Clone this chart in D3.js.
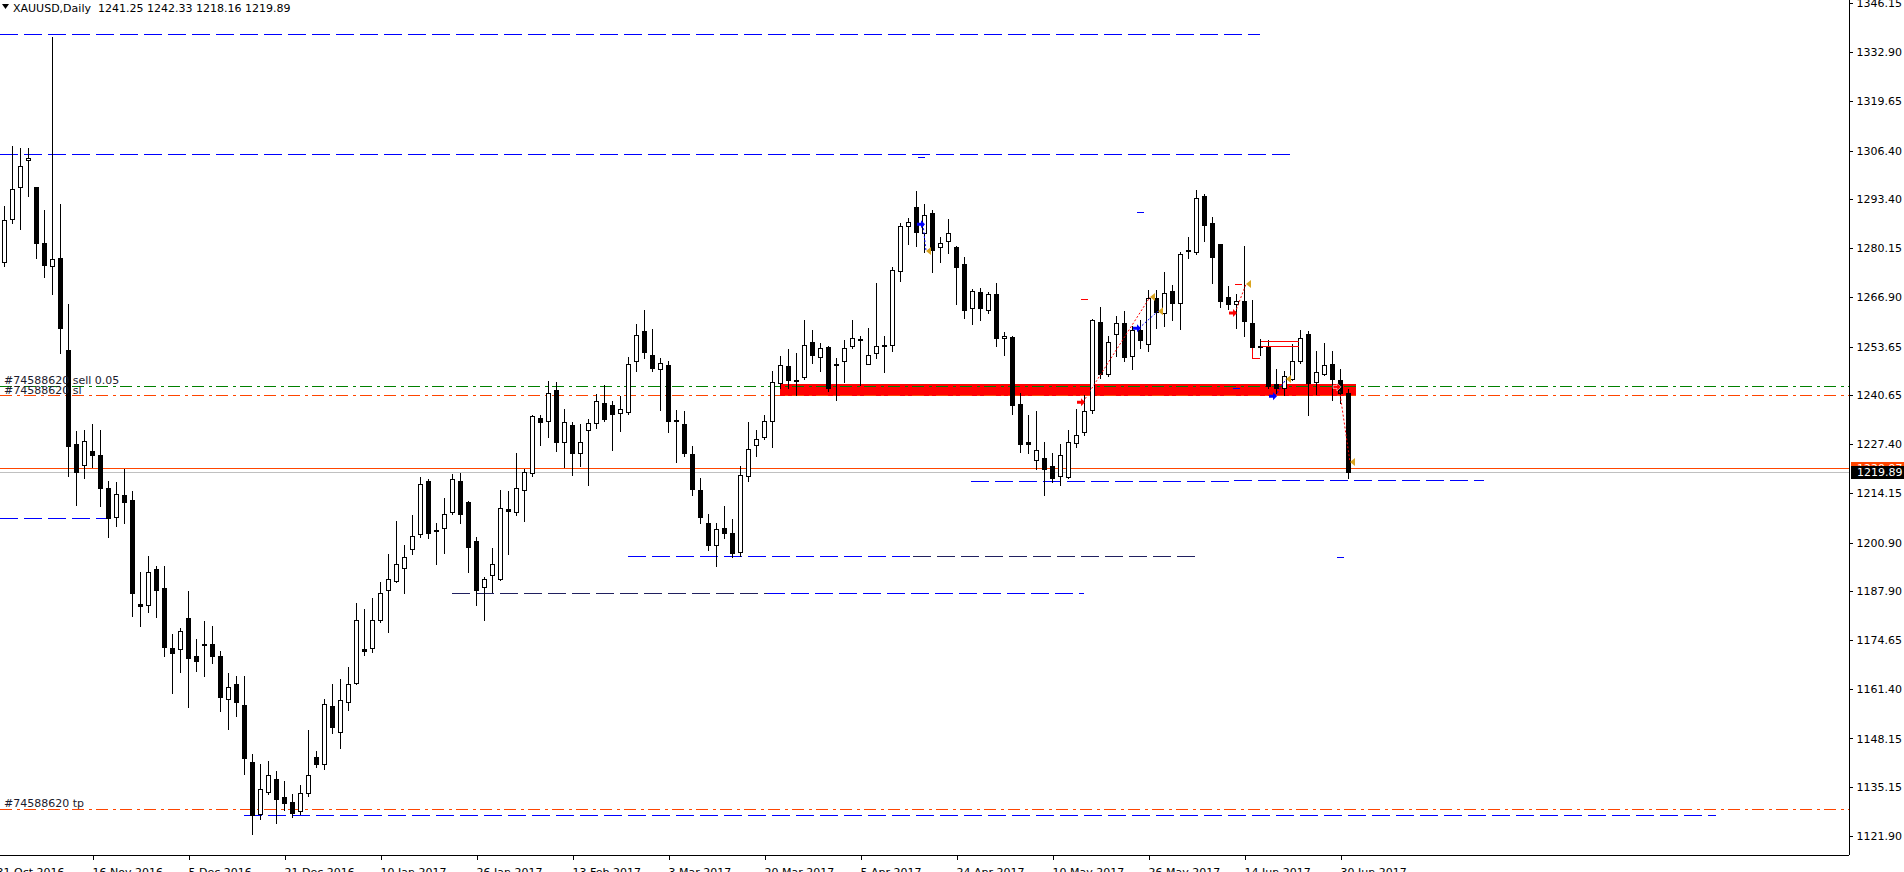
<!DOCTYPE html>
<html>
<head>
<meta charset="utf-8">
<script src="https://cdn.jsdelivr.net/npm/d3@7"></script>
<style>
  body { margin: 0; background: #fff; overflow: hidden; }
  svg { display: block; }
  text { font-family: "DejaVu Sans", sans-serif; font-size: 11px; }
</style>
</head>
<body>
<div id="chart"></div>
<script>
// XAUUSD daily, 1 Nov 2016 .. 3 Jul 2017 (bar 0 .. bar 168)
const opens = [
  1276.3,1287.9,1296.6,1303.8,1296.6,1281.5,1275.3,1277.6,1252.8,1227.5,
  1221.9,1225.5,1224.5,1215.6,1207.8,1213.6,1212.4,1184.3,1184.0,1193.8,
  1188.7,1172.6,1172.2,1180.7,1170.4,1173.6,1173.6,1170.4,1158.8,1162.8,
  1157.2,1141.9,1127.7,1133.8,1137.3,1132.5,1131.1,1128.5,1133.5,1143.2,
  1141.2,1156.9,1149.8,1158.0,1163.1,1172.2,1172.5,1180.1,1188.0,1190.5,
  1194.1,1199.1,1203.2,1217.6,1204.2,1204.9,1209.2,1217.6,1211.8,1201.3,
  1189.0,1192.1,1191.2,1209.9,1209.2,1215.0,1219.6,1234.5,1233.7,1242.1,
  1228.0,1232.6,1225.1,1231.3,1233.2,1238.6,1237.8,1235.9,1236.0,1249.9,
  1257.8,1251.3,1247.7,1248.6,1234.0,1232.9,1224.8,1215.1,1206.1,1200.3,
  1204.9,1203.6,1198.4,1218.7,1227.2,1229.4,1233.7,1243.8,1248.3,1244.7,
  1245.4,1254.8,1250.8,1253.6,1249.0,1249.9,1253.8,1255.7,1249.0,1251.9,
  1253.9,1254.2,1274.0,1286.1,1291.1,1284.2,1289.7,1280.5,1282.2,1280.5,
  1276.0,1264.0,1268.3,1263.4,1267.9,1255.9,1256.2,1238.2,1228.1,1223.1,
  1223.6,1221.6,1218.7,1218.6,1227.7,1230.6,1236.7,1260.4,1246.4,1257.0,
  1260.0,1251.0,1258.0,1254.4,1266.6,1262.6,1268.6,1265.5,1279.6,1279.0,
  1294.2,1286.8,1281.3,1267.0,1265.0,1265.9,1260.1,1253.8,1253.9,1243.5,
  1242.4,1245.0,1249.7,1257.0,1244.0,1246.4,1248.9,1244.6,1241.25
];
const highs = [
  1291.4,1307.7,1307.0,1307.0,1296.6,1290.4,1337.0,1292.1,1265.2,1231.0,
  1231.3,1232.7,1231.3,1217.6,1217.3,1220.8,1214.7,1193.1,1197.4,1194.5,
  1194.5,1176.2,1177.9,1187.9,1175.0,1179.8,1178.4,1171.7,1165.7,1165.0,
  1165.0,1144.0,1141.2,1142.0,1139.3,1136.8,1133.2,1135.7,1150.4,1144.8,
  1158.8,1162.8,1164.2,1167.4,1184.7,1183.0,1185.9,1190.2,1197.8,1206.8,
  1200.3,1208.2,1218.6,1217.9,1206.1,1213.0,1219.3,1219.7,1212.1,1202.4,
  1191.6,1199.3,1215.1,1214.7,1225.1,1220.8,1235.2,1235.2,1244.3,1244.1,
  1236.8,1233.4,1232.7,1234.2,1240.9,1243.3,1238.9,1240.4,1250.8,1259.7,
  1263.4,1258.3,1250.5,1249.7,1236.6,1236.3,1226.9,1218.3,1208.6,1206.1,
  1210.7,1207.2,1221.6,1233.4,1231.3,1235.2,1247.1,1251.0,1253.1,1251.9,
  1260.8,1258.0,1254.6,1253.9,1250.5,1255.4,1260.8,1256.5,1258.7,1270.7,
  1256.5,1275.0,1286.8,1288.2,1295.5,1292.1,1290.4,1283.2,1287.9,1280.7,
  1277.9,1269.2,1269.5,1268.3,1270.7,1257.7,1256.5,1241.1,1235.2,1236.3,
  1228.1,1225.1,1227.4,1231.3,1236.8,1240.6,1261.1,1264.4,1256.5,1262.0,
  1263.3,1259.1,1260.8,1268.8,1268.8,1273.8,1270.2,1279.2,1283.2,1295.7,
  1294.7,1288.5,1281.4,1269.9,1267.8,1280.7,1266.2,1255.8,1255.3,1247.6,
  1247.1,1254.4,1258.2,1257.9,1252.6,1254.6,1252.6,1247.7,1242.33
];
const lows = [
  1275.3,1286.8,1285.4,1294.3,1277.4,1272.4,1267.8,1251.9,1218.7,1211.1,
  1218.3,1221.2,1210.7,1202.3,1205.3,1206.1,1181.2,1178.4,1182.3,1180.8,
  1170.3,1160.3,1166.1,1156.6,1166.4,1165.0,1168.6,1155.6,1150.8,1154.1,
  1138.7,1122.4,1126.5,1133.2,1125.3,1128.9,1127.0,1127.9,1132.8,1140.4,
  1140.0,1149.5,1145.5,1155.9,1162.8,1170.7,1171.4,1179.4,1176.8,1190.2,
  1187.3,1197.7,1202.3,1202.2,1195.2,1198.1,1208.6,1206.1,1193.1,1184.0,
  1180.1,1187.6,1190.9,1197.8,1208.2,1206.8,1218.7,1227.2,1229.4,1225.5,
  1221.2,1219.0,1221.5,1216.4,1231.7,1233.7,1225.8,1230.9,1235.6,1247.1,
  1250.5,1247.1,1236.6,1230.6,1222.5,1224.1,1213.6,1206.1,1198.8,1194.5,
  1202.0,1197.1,1197.4,1217.6,1224.1,1228.8,1226.5,1242.4,1242.4,1240.7,
  1245.0,1249.3,1247.1,1241.7,1239.2,1244.1,1253.3,1243.3,1248.9,1250.5,
  1246.7,1252.6,1271.4,1281.3,1280.7,1279.2,1273.7,1276.3,1278.9,1265.2,
  1261.3,1259.7,1260.8,1262.6,1253.9,1251.5,1235.6,1225.2,1225.1,1220.8,
  1213.7,1217.3,1216.5,1218.3,1226.5,1229.8,1235.9,1245.2,1245.7,1251.2,
  1249.7,1247.6,1253.3,1252.6,1258.7,1259.1,1260.8,1258.4,1277.4,1278.6,
  1282.2,1270.9,1264.2,1263.7,1258.7,1256.5,1251.0,1251.5,1242.4,1241.1,
  1240.6,1244.7,1249.3,1235.3,1240.9,1246.1,1239.2,1238.5,1218.16
];
const closes = [
  1287.8,1296.0,1302.4,1304.4,1281.5,1275.6,1277.1,1258.7,1227.0,1219.8,
  1228.3,1224.5,1215.7,1207.5,1214.0,1211.8,1187.3,1183.7,1193.1,1188.0,
  1172.9,1171.2,1177.2,1169.7,1169.1,1173.4,1170.3,1159.2,1162.1,1158.0,
  1142.9,1127.6,1134.5,1138.3,1131.8,1130.8,1128.2,1133.5,1138.3,1141.2,
  1157.5,1151.3,1158.5,1162.8,1180.1,1171.7,1180.1,1187.3,1191.2,1195.2,
  1197.1,1202.7,1216.6,1203.6,1204.0,1208.6,1217.9,1208.5,1199.6,1188.0,
  1191.1,1195.2,1210.2,1209.5,1215.6,1219.8,1234.9,1233.4,1241.1,1228.1,
  1233.4,1225.1,1228.1,1233.0,1238.9,1234.2,1235.6,1236.8,1248.9,1256.7,
  1252.2,1247.9,1249.2,1233.7,1233.7,1225.1,1215.3,1207.8,1200.3,1204.6,
  1203.6,1198.1,1219.0,1226.0,1228.7,1233.7,1244.2,1248.6,1244.7,1244.4,
  1254.1,1251.3,1253.2,1242.4,1248.7,1253.2,1255.9,1255.4,1251.5,1253.9,
  1254.2,1274.3,1286.1,1287.2,1284.4,1289.0,1279.6,1281.6,1284.2,1275.0,
  1263.4,1268.5,1264.1,1267.8,1256.1,1256.5,1237.8,1227.4,1227.4,1225.8,
  1220.8,1218.3,1224.5,1228.0,1229.8,1236.2,1260.7,1246.4,1254.8,1260.0,
  1250.8,1258.0,1255.4,1266.6,1263.0,1268.2,1265.3,1278.6,1279.3,1293.6,
  1286.5,1277.7,1266.0,1265.2,1265.9,1260.5,1253.6,1253.5,1243.1,1242.4,
  1245.7,1249.9,1255.9,1243.8,1246.7,1248.6,1245.0,1241.1,1219.89
];

const priceTicks = [1346.15,1332.90,1319.65,1306.40,1293.40,1280.15,1266.90,1253.65,
  1240.65,1227.40,1214.15,1200.90,1187.90,1174.65,1161.40,1148.15,1135.15,1121.90];
const dateBars = [-1, 11, 23, 35, 47, 59, 71, 83, 95, 107, 119, 131, 143, 155, 167];
const dateLabels = ["31 Oct 2016","16 Nov 2016","5 Dec 2016","21 Dec 2016","10 Jan 2017",
  "26 Jan 2017","13 Feb 2017","3 Mar 2017","20 Mar 2017","5 Apr 2017","24 Apr 2017",
  "10 May 2017","26 May 2017","14 Jun 2017","30 Jun 2017"];

// horizontal lines drawn on the chart: price, first bar, last bar, style
const hLines = [
  {price: 1337.8,  from: -0.5,  to: 157,   kind: "blue"},
  {price: 1305.4,  from: -0.5,  to: 161.2, kind: "blue"},
  {price: 1207.5,  from: -0.5,  to: 12.8,  kind: "blue"},
  {price: 1197.3,  from: 78,    to: 113.6, kind: "blue"},
  {price: 1197.3,  from: 113.6, to: 149.2, kind: "dark"},
  {price: 1187.2,  from: 56,    to: 95.4,  kind: "dark"},
  {price: 1187.2,  from: 95.4,  to: 135,   kind: "blue"},
  {price: 1217.6,  from: 120.9, to: 153.5, kind: "blue"},
  {price: 1217.75, from: 153.7, to: 185,   kind: "blue"},
  {price: 1127.45, from: 30,    to: 214,   kind: "blue"}
];
const orderId = "#74588620";
const entryPrice = 1243.04, slPrice = 1240.62, tpPrice = 1129.17;
const bidPrice = 1219.89, askPrice = 1220.97;
const zoneTop = 1243.6, zoneBottom = 1240.35, zoneFrom = 97, zoneTo = 169;

// closed trades: [type, open bar, open price, close bar, close price]
const trades = [
  ["buy", 115, 1286.6, 115, 1279.4],
  ["sell", 135, 1238.7, 143, 1267.0],
  ["buy", 142, 1258.6, 144, 1263.2],
  ["sell", 154, 1262.7, 155, 1270.5],
  ["buy", 159, 1240.3, 160, 1244.9],
  ["sell", 167, 1242.8, 168, 1222.6]
];
// short level marks [bar, price, colour kind]
const marks = [[114.6, 1304.6, "blue"], [142, 1290.0, "blue"], [167, 1197.0, "blue"],
  [154, 1242.5, "blue"], [135, 1266.5, "red"], [154.2, 1270.5, "red"]];

const W = 1904, H = 872, axisX = 1849, axisY = 855;
const x = d3.scaleLinear().domain([0, 168]).range([4, 1348]);
const y = d3.scaleLinear().domain([1121.9, 1346.15]).range([836, 3]);
const py = p => Math.round(y(p)) + 0.5;

const col = {blue: "#0000ff", dark: "#202060", green: "#008000", orange: "#ff4500", red: "#ff0000", gold: "#daa520"};

const svg = d3.select("#chart").append("svg")
  .attr("width", W).attr("height", H)
  .attr("shape-rendering", "crispEdges");

svg.append("clipPath").attr("id", "plot")
  .append("rect").attr("x", 0).attr("y", 0).attr("width", axisX).attr("height", axisY);
const plot = svg.append("g").attr("clip-path", "url(#plot)");

// resistance zone
plot.append("rect")
  .attr("x", x(zoneFrom) - 0.5).attr("width", x(zoneTo) - x(zoneFrom))
  .attr("y", y(zoneTop)).attr("height", y(zoneBottom) - y(zoneTop))
  .attr("fill", col.red);

// dashed levels
plot.selectAll(".lvl").data(hLines).enter().append("line")
  .attr("x1", d => Math.max(0, x(d.from))).attr("x2", d => x(d.to))
  .attr("y1", d => py(d.price)).attr("y2", d => py(d.price))
  .attr("stroke", d => col[d.kind]).attr("stroke-width", 1)
  .attr("stroke-dasharray", "18,6");

// bid / ask
plot.append("line").attr("x1", 0).attr("x2", axisX)
  .attr("y1", py(askPrice)).attr("y2", py(askPrice)).attr("stroke", col.orange);
plot.append("line").attr("x1", 0).attr("x2", axisX)
  .attr("y1", py(bidPrice)).attr("y2", py(bidPrice)).attr("stroke", "#c0c0c0");

// order lines
[[entryPrice, col.green], [slPrice, col.orange], [tpPrice, col.orange]].forEach(([p, c]) => {
  plot.append("line").attr("x1", 0).attr("x2", axisX)
    .attr("y1", py(p)).attr("y2", py(p))
    .attr("stroke", c).attr("stroke-dasharray", "12,5,3,4");
});

// candles
const bars = d3.range(opens.length).map(i => ({i, o: opens[i], h: highs[i], l: lows[i], c: closes[i]}));
const cg = plot.append("g");
cg.selectAll(".wick").data(bars).enter().append("line")
  .attr("x1", d => x(d.i) + 0.5).attr("x2", d => x(d.i) + 0.5)
  .attr("y1", d => Math.round(y(d.h))).attr("y2", d => Math.round(y(d.l)) + 1)
  .attr("stroke", "#000");
cg.selectAll(".body").data(bars).enter().append("rect")
  .attr("x", d => x(d.i) - 1.5).attr("width", 4)
  .attr("y", d => Math.round(y(Math.max(d.o, d.c))) + 0.5)
  .attr("height", d => Math.max(0, Math.round(y(Math.min(d.o, d.c))) - Math.round(y(Math.max(d.o, d.c)))))
  .attr("fill", d => d.c >= d.o ? "#fff" : "#000")
  .attr("stroke", "#000");

// trade markers
const tg = plot.append("g").attr("shape-rendering", "auto");
trades.forEach(([type, b0, p0, b1, p1]) => {
  const c = type === "buy" ? col.blue : col.red;
  const x0 = x(b0) - 3, y0 = y(p0), x1 = x(b1) + 2, y1 = y(p1);
  tg.append("line").attr("x1", x0 + 2).attr("y1", y0).attr("x2", x1).attr("y2", y1)
    .attr("stroke", c).attr("stroke-dasharray", "2,2");
  tg.append("path")
    .attr("d", `M${x0 - 4},${y0 - 1.5}h4v-2.5l4,4l-4,4v-2.5h-4z`)
    .attr("fill", c).attr("stroke", type === "sell" && b0 === 167 ? "#fff" : "none").attr("stroke-width", 0.6);
  tg.append("path")
    .attr("d", `M${x1},${y1}l5,-4v8z`).attr("fill", col.gold);
});
plot.selectAll(".mark").data(marks).enter().append("line")
  .attr("x1", d => x(d[0]) - 3).attr("x2", d => x(d[0]) + 4)
  .attr("y1", d => py(d[1])).attr("y2", d => py(d[1]))
  .attr("stroke", d => col[d[2]]);

// trade box near mid June
const bx0 = x(157) + 1, bx1 = x(161.9);
[1255.2, 1253.8].forEach(p => plot.append("line").attr("x1", bx0).attr("x2", bx1)
  .attr("y1", py(p)).attr("y2", py(p)).attr("stroke", col.red));
plot.append("path").attr("fill", "none").attr("stroke", col.red)
  .attr("d", `M${x(156.1)},${py(1253.5)}v${Math.round(y(1250.6) - y(1253.5))}h${Math.round(x(157) - x(156.1))}`);

// order labels
const lbl = svg.append("g").attr("fill", "#1b1b2e");
lbl.append("text").attr("x", 4).attr("y", py(entryPrice) - 3).text(orderId + " sell 0.05");
lbl.append("text").attr("x", 4).attr("y", py(slPrice) - 2).text(orderId + " sl");
lbl.append("text").attr("x", 4).attr("y", py(tpPrice) - 3).text(orderId + " tp");

// price axis
const yAxis = svg.append("g").attr("transform", `translate(${axisX + 0.5},0)`)
  .call(d3.axisRight(y).tickValues(priceTicks).tickSize(3).tickPadding(4).tickFormat(d3.format(".2f")));
yAxis.select(".domain").attr("d", `M0,0V${axisY}`).attr("stroke", "#000");
yAxis.selectAll(".tick line").attr("stroke", "#000");
yAxis.selectAll(".tick text").attr("fill", "#000").style("font-size", "11px")
  .style("font-family", "DejaVu Sans");

// time axis
const xAxis = svg.append("g").attr("transform", `translate(0,${axisY + 0.5})`)
  .call(d3.axisBottom(x).tickValues(dateBars).tickSize(4)
    .tickFormat((d, i) => dateLabels[i]));
xAxis.select(".domain").attr("d", `M0,0H${axisX}`).attr("stroke", "#000");
xAxis.selectAll(".tick line").attr("stroke", "#000").attr("transform", "translate(0.5,0)");
xAxis.selectAll(".tick text").attr("text-anchor", "start").attr("x", 0).attr("y", 13)
  .attr("fill", "#000").style("font-size", "11px").style("font-family", "DejaVu Sans");

// current price tags
svg.append("rect").attr("x", axisX + 2).attr("y", Math.round(y(askPrice)) - 6).attr("width", 60).attr("height", 12)
  .attr("fill", col.orange);
svg.append("text").attr("x", axisX + 8).attr("y", Math.round(y(askPrice)) + 4).attr("fill", "#fff")
  .text(d3.format(".2f")(askPrice));
svg.append("rect").attr("x", axisX + 2).attr("y", Math.round(y(bidPrice)) - 6).attr("width", 60).attr("height", 13)
  .attr("fill", "#000");
svg.append("text").attr("x", axisX + 8).attr("y", Math.round(y(bidPrice)) + 4).attr("fill", "#fff")
  .text(d3.format(".2f")(bidPrice));

// header
svg.append("path").attr("d", "M2,4h7l-3.5,5z").attr("fill", "#000").attr("shape-rendering", "auto");
svg.append("text").attr("x", 13).attr("y", 12).attr("fill", "#000").attr("xml:space", "preserve")
  .text(`XAUUSD,Daily  ${opens[168].toFixed(2)} ${highs[168].toFixed(2)} ${lows[168].toFixed(2)} ${closes[168].toFixed(2)}`);
</script>
</body>
</html>
